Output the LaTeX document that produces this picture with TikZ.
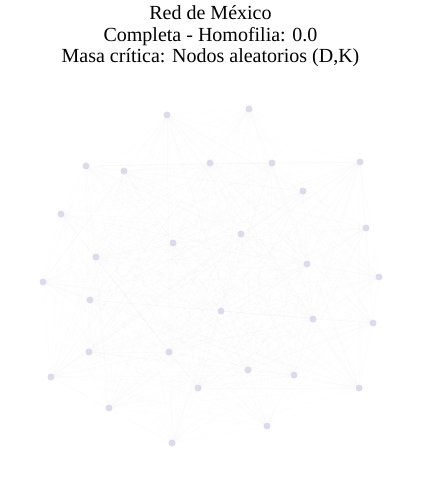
\documentclass[tikz,border=0pt]{standalone}
\usepackage{fontspec}
\setmainfont{Liberation Serif}
\usetikzlibrary{backgrounds}
\definecolor{Lavender}{HTML}{DDDAEE}
\definecolor{EdgeGray}{HTML}{A8A8BC}

\begin{document}
\begin{tikzpicture}[x=1pt,y=-1pt,
    nodo/.style={circle,fill=Lavender,inner sep=0pt,minimum size=7pt},
    arista/.style={draw=EdgeGray,line width=0.5pt,opacity=0.035}]
  \useasboundingbox (0,0) rectangle (421,486);
  \node[align=center,font=\fontsize{20}{21.5}\selectfont,anchor=base] (title) at (210.5,63)
    {Red de México\\Completa - Homofilia: 0.0\\Masa crítica: Nodos aleatorios (D,K)};
  \foreach \x/\y [count=\n] in {167/115,249/109,86/166,124/171,210/163,272/163,360/162,303/191,
      61/214,366/228,241/234,173/243,96/257,307/264,379/277,43/282,90/300,221/311,313/319,
      373/323,89/352,169/352,248/370,294/375,51/377,198/388,359/388,109/408,267/426,172/443}
    \node[nodo] (n\n) at (\x,\y) {};
  \begin{scope}[on background layer]
    \foreach \i in {1,...,29}{
      \pgfmathtruncatemacro\k{\i+1}
      \foreach \j in {\k,...,30}
        \draw[arista] (n\i) -- (n\j);
    }
  \end{scope}
\end{tikzpicture}
\end{document}
